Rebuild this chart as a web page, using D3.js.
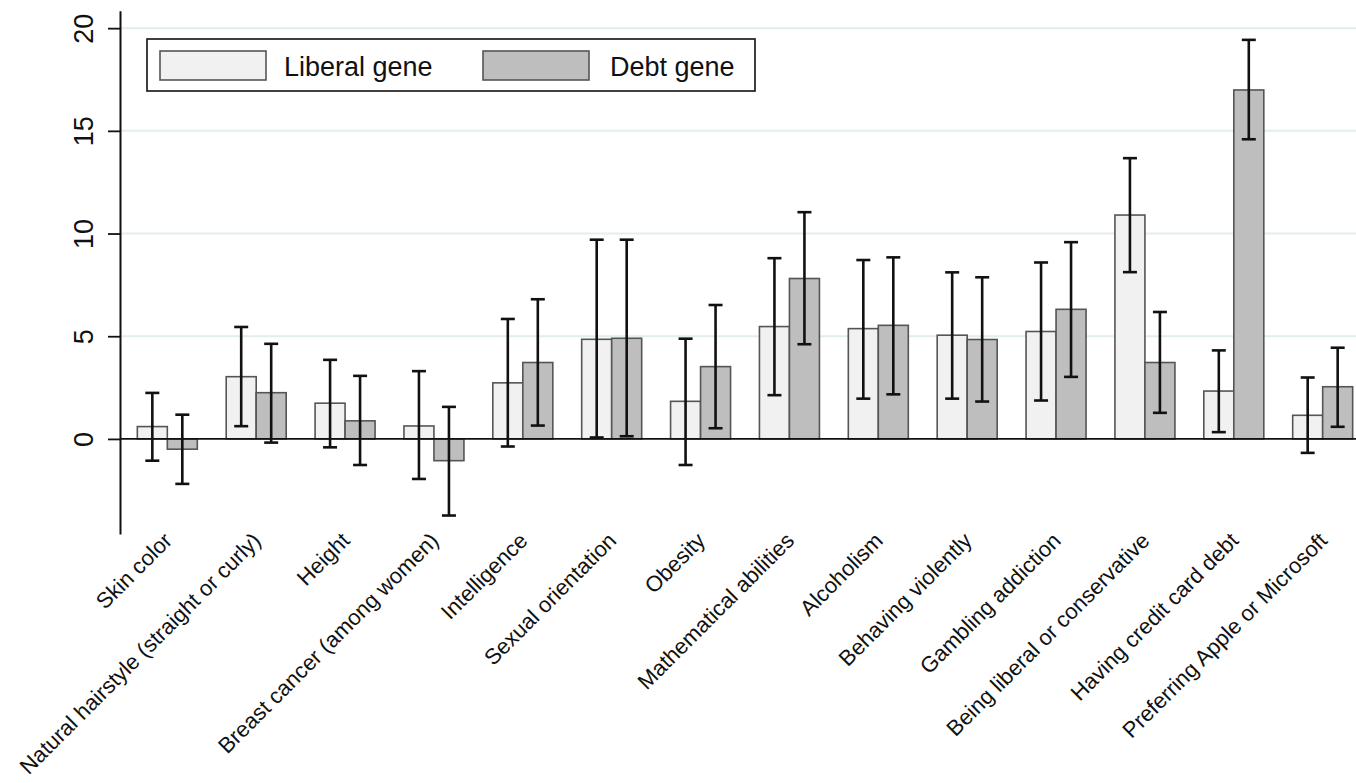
<!DOCTYPE html>
<html>
<head>
<meta charset="utf-8">
<script src="https://cdn.jsdelivr.net/npm/d3@7"></script>
<style>
  html, body { margin: 0; padding: 0; background: #fff; }
  svg { display: block; font-family: "Liberation Sans", Arial, Helvetica, sans-serif; }
</style>
</head>
<body>
<svg id="chart" width="1356" height="783"></svg>
<script>
// Traits (x-axis categories)
const categories = [
  "Skin color",
  "Natural hairstyle (straight or curly)",
  "Height",
  "Breast cancer (among women)",
  "Intelligence",
  "Sexual orientation",
  "Obesity",
  "Mathematical abilities",
  "Alcoholism",
  "Behaving violently",
  "Gambling addiction",
  "Being liberal or conservative",
  "Having credit card debt",
  "Preferring Apple or Microsoft"
];

const seriesNames = ["Liberal gene", "Debt gene"];

// Liberal gene: estimate and confidence interval
const liberalValues = [0.60, 3.03, 1.74, 0.63, 2.73, 4.85, 1.83, 5.47, 5.37, 5.05, 5.23, 10.90, 2.33, 1.15];
const liberalLow    = [-1.06, 0.62, -0.41, -1.95, -0.37, 0.07, -1.27, 2.13, 1.96, 1.96, 1.87, 8.12, 0.33, -0.68];
const liberalHigh   = [2.24, 5.45, 3.85, 3.30, 5.84, 9.70, 4.88, 8.80, 8.71, 8.11, 8.59, 13.67, 4.31, 2.99];

// Debt gene: estimate and confidence interval
const debtValues = [-0.50, 2.25, 0.88, -1.06, 3.72, 4.90, 3.52, 7.81, 5.53, 4.84, 6.31, 3.72, 16.99, 2.54];
const debtLow    = [-2.19, -0.18, -1.27, -3.73, 0.65, 0.13, 0.52, 4.61, 2.17, 1.82, 3.02, 1.27, 14.59, 0.59];
const debtHigh   = [1.18, 4.63, 3.07, 1.56, 6.80, 9.70, 6.52, 11.04, 8.84, 7.87, 9.58, 6.18, 19.43, 4.44];

const yTicks = [0, 5, 10, 15, 20];
const fills = ["#f1f1f1", "#bebebe"];

const W = 1356, H = 783;
const svg = d3.select("#chart");

const axisX = 120;
const y = d3.scaleLinear().domain([-4.63, 20.85]).range([534, 10.7]);

const x = d3.scaleBand()
  .domain(categories)
  .range([axisX, 1370])
  .paddingInner(0.325)
  .paddingOuter(0.195);

const xs = d3.scaleBand().domain(seriesNames).range([0, x.bandwidth()]).padding(0);

// Build rows
const rows = [];
categories.forEach((c, i) => {
  rows.push({ cat: c, s: seriesNames[0], v: liberalValues[i], lo: liberalLow[i], hi: liberalHigh[i], k: 0 });
  rows.push({ cat: c, s: seriesNames[1], v: debtValues[i], lo: debtLow[i], hi: debtHigh[i], k: 1 });
});

// Gridlines
svg.append("g")
  .selectAll("line")
  .data(yTicks.filter(t => t !== 0))
  .join("line")
  .attr("x1", axisX).attr("x2", W)
  .attr("y1", d => y(d)).attr("y2", d => y(d))
  .attr("stroke", "#e3eded")
  .attr("stroke-width", 2);

// Bars
svg.append("g")
  .selectAll("rect")
  .data(rows)
  .join("rect")
  .attr("x", d => x(d.cat) + xs(d.s))
  .attr("width", xs.bandwidth())
  .attr("y", d => Math.min(y(d.v), y(0)))
  .attr("height", d => Math.abs(y(d.v) - y(0)))
  .attr("fill", d => fills[d.k])
  .attr("stroke", "#555")
  .attr("stroke-width", 1.6);

// Zero line
svg.append("line")
  .attr("x1", axisX).attr("x2", W)
  .attr("y1", y(0)).attr("y2", y(0))
  .attr("stroke", "#111")
  .attr("stroke-width", 1.8);

// Error bars
const cap = 7;
const eg = svg.append("g").attr("stroke", "#111").attr("stroke-width", 2.6).attr("fill", "none");
const ex = d => x(d.cat) + xs(d.s) + xs.bandwidth() / 2;
eg.selectAll("line.v").data(rows).join("line").attr("class", "v")
  .attr("x1", ex).attr("x2", ex)
  .attr("y1", d => y(d.lo)).attr("y2", d => y(d.hi));
eg.selectAll("line.t").data(rows).join("line").attr("class", "t")
  .attr("x1", d => ex(d) - cap).attr("x2", d => ex(d) + cap)
  .attr("y1", d => y(d.hi)).attr("y2", d => y(d.hi));
eg.selectAll("line.b").data(rows).join("line").attr("class", "b")
  .attr("x1", d => ex(d) - cap).attr("x2", d => ex(d) + cap)
  .attr("y1", d => y(d.lo)).attr("y2", d => y(d.lo));

// Y axis
const yAxis = svg.append("g")
  .attr("transform", `translate(${axisX},0)`)
  .call(d3.axisLeft(y).tickValues(yTicks).tickSize(12).tickSizeOuter(0).tickFormat(d3.format("d")));
yAxis.select(".domain").attr("stroke", "#111").attr("stroke-width", 2);
yAxis.selectAll(".tick line").attr("stroke", "#111").attr("stroke-width", 1.8);
yAxis.selectAll(".tick text")
  .attr("transform", "rotate(-90)")
  .attr("x", 0).attr("y", -27).attr("dy", 0)
  .attr("text-anchor", "middle")
  .attr("fill", "#111")
  .style("font-size", "27px")
  .style("font-family", "'Liberation Sans', Arial, Helvetica, sans-serif");

// X category labels, rotated 45 degrees
svg.append("g")
  .selectAll("text")
  .data(categories)
  .join("text")
  .attr("transform", d => `translate(${x(d) + x.bandwidth() / 2 + 6},${542}) rotate(-45)`)
  .attr("text-anchor", "end")
  .attr("fill", "#111")
  .style("font-size", "22px")
  .text(d => d);

// Legend
const lg = svg.append("g");
lg.append("rect")
  .attr("x", 147).attr("y", 39).attr("width", 608).attr("height", 52)
  .attr("fill", "#fff").attr("stroke", "#111").attr("stroke-width", 1.6);
const legendItems = [
  { name: seriesNames[0], sx: 160, tx: 284, k: 0 },
  { name: seriesNames[1], sx: 483, tx: 610, k: 1 }
];
lg.selectAll("rect.sw").data(legendItems).join("rect").attr("class", "sw")
  .attr("x", d => d.sx).attr("y", 51).attr("width", 106).attr("height", 29)
  .attr("fill", d => fills[d.k]).attr("stroke", "#555").attr("stroke-width", 1.6);
lg.selectAll("text").data(legendItems).join("text")
  .attr("x", d => d.tx).attr("y", 76)
  .attr("fill", "#111")
  .style("font-size", "27px")
  .text(d => d.name);
</script>
</body>
</html>
